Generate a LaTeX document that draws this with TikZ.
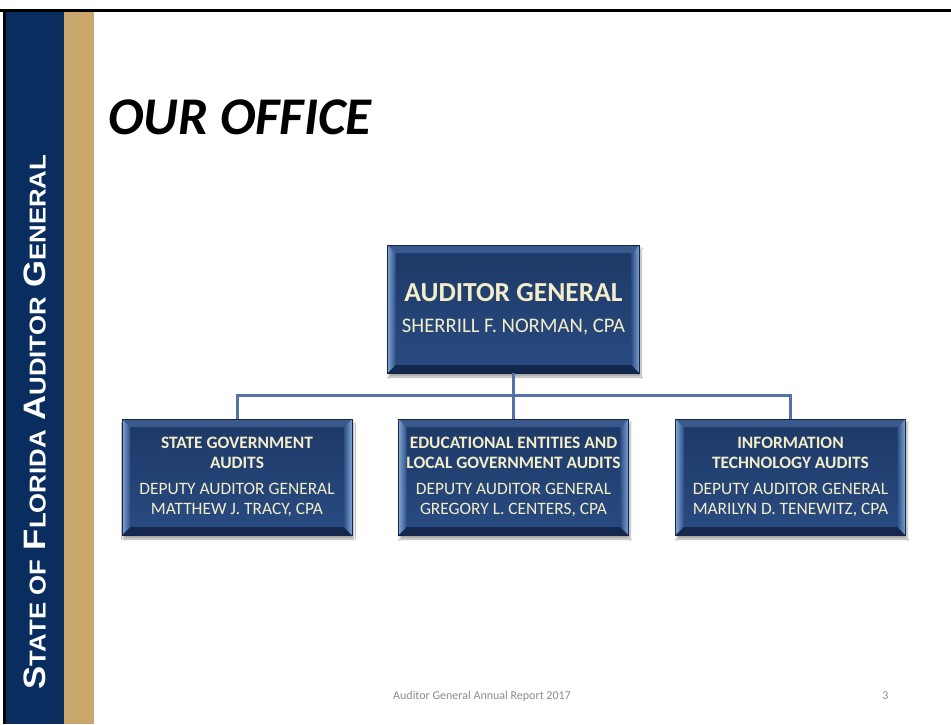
\documentclass[tikz,border=0pt]{standalone}
\usepackage{fontspec}
\setmainfont{Carlito}
\newfontfamily\sidefont{Liberation Sans}
\usetikzlibrary{calc,shadows.blur}

\definecolor{sidenavy}{RGB}{10,45,96}
\definecolor{sidetan}{RGB}{201,166,108}
\definecolor{boxtop}{RGB}{28,56,102}
\definecolor{boxbot}{RGB}{42,76,130}
\definecolor{bevlight}{RGB}{128,165,212}
\definecolor{bevmid}{RGB}{46,80,134}
\definecolor{bevtop}{RGB}{58,90,142}
\definecolor{bevbot}{RGB}{20,40,78}
\definecolor{boxedge}{RGB}{22,38,72}
\definecolor{boxtext}{RGB}{243,238,200}
\definecolor{linkblue}{RGB}{84,114,166}
\definecolor{footgray}{RGB}{140,140,140}

% fake small caps for the side banner
\newcommand\sidesc[1]{{\fontsize{23}{23}\selectfont #1}}
% line styles inside the boxes
\newcommand\boxhd[1]{{\bfseries #1}}

\def\bev{8pt}

\tikzset{
  orgbox/.style={
    rectangle, inner sep=0pt, align=center, text=boxtext,
    draw=boxedge, line width=0.6pt,
    top color=boxtop, bottom color=boxbot,
    blur shadow={shadow xshift=1.5pt, shadow yshift=-4pt,
                 shadow blur steps=8, shadow opacity=35},
    path picture={
      \coordinate (pp nw) at (path picture bounding box.north west);
      \coordinate (pp ne) at (path picture bounding box.north east);
      \coordinate (pp sw) at (path picture bounding box.south west);
      \coordinate (pp se) at (path picture bounding box.south east);
      % top and bottom bevels
      \fill[bevtop] (pp nw) -- (pp ne) -- ([shift={(-\bev,-\bev)}]pp ne)
                    -- ([shift={(\bev,-\bev)}]pp nw) -- cycle;
      \fill[bevbot] (pp sw) -- (pp se) -- ([shift={(-\bev,\bev)}]pp se)
                    -- ([shift={(\bev,\bev)}]pp sw) -- cycle;
      % left and right bevels
      \shade[left color=bevlight, right color=bevmid]
            (pp nw) -- (pp sw) -- ([shift={(\bev,\bev)}]pp sw)
            -- ([shift={(\bev,-\bev)}]pp nw) -- cycle;
      \shade[left color=bevmid, right color=bevlight]
            (pp ne) -- (pp se) -- ([shift={(-\bev,\bev)}]pp se)
            -- ([shift={(-\bev,-\bev)}]pp ne) -- cycle;
    }
  },
  headbox/.style={orgbox, minimum width=252pt, minimum height=128pt,
                  font=\fontsize{20.7}{24}\selectfont},
  unitbox/.style={orgbox, minimum width=230pt, minimum height=116pt,
                  font=\fontsize{17.4}{19.5}\selectfont},
  link/.style={draw=linkblue, line width=3pt},
  footer/.style={inner sep=0pt, text=footgray, font=\fontsize{12}{14}\selectfont},
  sidetext/.style={inner sep=0pt, text=white,
                   font=\sidefont\bfseries\fontsize{31}{31}\selectfont}
}

\begin{document}
\begin{tikzpicture}[x=1pt,y=-1pt]
  \useasboundingbox (0,0) rectangle (951,724);
  \fill[white] (0,0) rectangle (951,724);

  % side banner
  \fill[sidenavy] (5,10) rectangle (64,724);
  \fill[sidetan] (64,10) rectangle (94,724);
  \fill[black] (0,9) rectangle (951,12);
  \fill[black] (3,9) rectangle (6,724);
  \node[sidetext, rotate=90] (banner) at (35,422)
    {\scalebox{1.12}[1]{S\sidesc{TATE OF} F\sidesc{LORIDA} A\sidesc{UDITOR} G\sidesc{ENERAL}}};

  % title
  \node[anchor=base west, inner sep=0pt,
        font=\fontsize{53}{60}\selectfont\bfseries\itshape] (title)
    at (108,134) {OUR OFFICE};

  % organisation chart
  \node[headbox] (ag) at (513.5,309)
    {{\bfseries\fontsize{27.5}{30}\selectfont AUDITOR GENERAL}\\[7pt]
     SHERRILL F. NORMAN, CPA};

  \node[unitbox] (sga) at (237,477)
    {\boxhd{STATE GOVERNMENT}\\ \boxhd{AUDITS}\\[7pt]
     DEPUTY AUDITOR GENERAL\\ MATTHEW J. TRACY, CPA};
  \node[unitbox] (ela) at (513.5,477)
    {\boxhd{EDUCATIONAL ENTITIES AND}\\ \boxhd{LOCAL GOVERNMENT AUDITS}\\[7pt]
     DEPUTY AUDITOR GENERAL\\ GREGORY L. CENTERS, CPA};
  \node[unitbox] (ita) at (790.5,477)
    {\boxhd{INFORMATION}\\ \boxhd{TECHNOLOGY AUDITS}\\[7pt]
     DEPUTY AUDITOR GENERAL\\ MARILYN D. TENEWITZ, CPA};

  \coordinate (bus) at (513.5,395.5);
  \draw[link] (ag.south) -- (bus);
  \draw[link] (bus) -| (sga.north);
  \draw[link] (bus) -| (ita.north);
  \draw[link] (bus) -- (ela.north);

  % footer
  \node[footer, anchor=base west] (foot) at (393,699)
    {Auditor General Annual Report 2017};
  \node[footer, anchor=base] (pagenum) at (885.5,699) {3};
\end{tikzpicture}
\end{document}
